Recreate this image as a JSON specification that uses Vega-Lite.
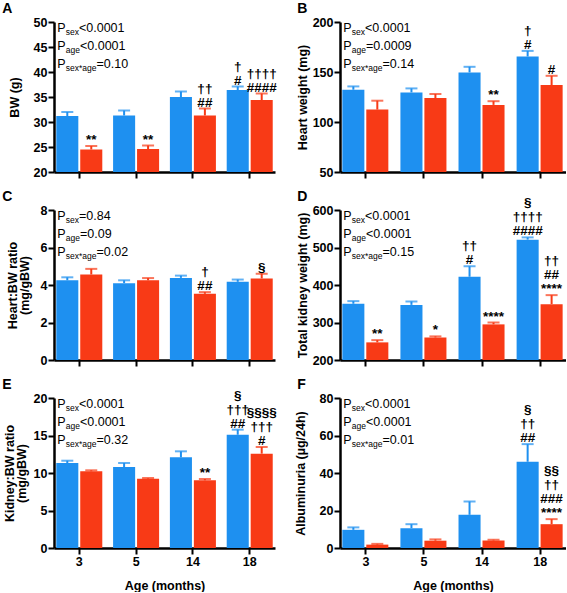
{
"$schema":"https://vega.github.io/schema/vega-lite/v6.json",
"padding":{"left":2,"top":2,"right":0,"bottom":0},
"columns":2,
"spacing":{"row":11,"column":17},
"datasets":{
"bars":[
{"panel":"A","age":"3","sex":"Male","mean":31.2,"upper":32.0},
{"panel":"A","age":"3","sex":"Female","mean":24.5,"upper":25.2,"a1":"**"},
{"panel":"A","age":"5","sex":"Male","mean":31.3,"upper":32.3},
{"panel":"A","age":"5","sex":"Female","mean":24.6,"upper":25.3,"a1":"**"},
{"panel":"A","age":"14","sex":"Male","mean":35.0,"upper":36.1},
{"panel":"A","age":"14","sex":"Female","mean":31.3,"upper":32.7,"a1":"##","a2":"††"},
{"panel":"A","age":"18","sex":"Male","mean":36.4,"upper":37.1,"a1":"#","a2":"†"},
{"panel":"A","age":"18","sex":"Female","mean":34.4,"upper":35.7,"a1":"####","a2":"††††"},
{"panel":"B","age":"3","sex":"Male","mean":132.3,"upper":135.6},
{"panel":"B","age":"3","sex":"Female","mean":112.4,"upper":121.3},
{"panel":"B","age":"5","sex":"Male","mean":129.6,"upper":133.6},
{"panel":"B","age":"5","sex":"Female","mean":124.0,"upper":128.0},
{"panel":"B","age":"14","sex":"Male","mean":149.6,"upper":155.2},
{"panel":"B","age":"14","sex":"Female","mean":117.1,"upper":120.8,"a1":"**"},
{"panel":"B","age":"18","sex":"Male","mean":165.5,"upper":171.1,"a1":"#","a2":"†"},
{"panel":"B","age":"18","sex":"Female","mean":136.9,"upper":146.2,"a1":"#"},
{"panel":"C","age":"3","sex":"Male","mean":4.25,"upper":4.41},
{"panel":"C","age":"3","sex":"Female","mean":4.56,"upper":4.86},
{"panel":"C","age":"5","sex":"Male","mean":4.10,"upper":4.25},
{"panel":"C","age":"5","sex":"Female","mean":4.25,"upper":4.37},
{"panel":"C","age":"14","sex":"Male","mean":4.38,"upper":4.50},
{"panel":"C","age":"14","sex":"Female","mean":3.53,"upper":3.62,"a1":"##","a2":"†"},
{"panel":"C","age":"18","sex":"Male","mean":4.17,"upper":4.29},
{"panel":"C","age":"18","sex":"Female","mean":4.35,"upper":4.60,"a1":"§"},
{"panel":"D","age":"3","sex":"Male","mean":350,"upper":357},
{"panel":"D","age":"3","sex":"Female","mean":247,"upper":253,"a1":"**"},
{"panel":"D","age":"5","sex":"Male","mean":347,"upper":356},
{"panel":"D","age":"5","sex":"Female","mean":260,"upper":263,"a1":"*"},
{"panel":"D","age":"14","sex":"Male","mean":422,"upper":450,"a1":"#","a2":"††"},
{"panel":"D","age":"14","sex":"Female","mean":295,"upper":300,"a1":"****"},
{"panel":"D","age":"18","sex":"Male","mean":521,"upper":527,"a1":"####","a2":"††††","a3":"§"},
{"panel":"D","age":"18","sex":"Female","mean":349,"upper":373,"a1":"****","a2":"##","a3":"††"},
{"panel":"E","age":"3","sex":"Male","mean":11.33,"upper":11.64},
{"panel":"E","age":"3","sex":"Female","mean":10.22,"upper":10.36},
{"panel":"E","age":"5","sex":"Male","mean":10.8,"upper":11.33},
{"panel":"E","age":"5","sex":"Female","mean":9.24,"upper":9.33},
{"panel":"E","age":"14","sex":"Male","mean":12.09,"upper":12.89},
{"panel":"E","age":"14","sex":"Female","mean":9.02,"upper":9.2,"a1":"**"},
{"panel":"E","age":"18","sex":"Male","mean":15.1,"upper":15.78,"a1":"##","a2":"†††","a3":"§"},
{"panel":"E","age":"18","sex":"Female","mean":12.58,"upper":13.47,"a1":"#","a2":"†††","a3":"§§§§"},
{"panel":"F","age":"3","sex":"Male","mean":9.7,"upper":11.0},
{"panel":"F","age":"3","sex":"Female","mean":1.8,"upper":2.2},
{"panel":"F","age":"5","sex":"Male","mean":10.6,"upper":12.7},
{"panel":"F","age":"5","sex":"Female","mean":3.9,"upper":4.6},
{"panel":"F","age":"14","sex":"Male","mean":17.7,"upper":24.8},
{"panel":"F","age":"14","sex":"Female","mean":4.0,"upper":4.4},
{"panel":"F","age":"18","sex":"Male","mean":46.0,"upper":55.4,"a1":"##","a2":"††","a3":"§"},
{"panel":"F","age":"18","sex":"Female","mean":12.7,"upper":15.4,"a1":"****","a2":"###","a3":"††","a4":"§§"}
],
"pv":[
{"panel":"A","s":"<0.0001","a":"<0.0001","i":"=0.10"},
{"panel":"B","s":"<0.0001","a":"=0.0009","i":"=0.14"},
{"panel":"C","s":"=0.84","a":"=0.09","i":"=0.02"},
{"panel":"D","s":"<0.0001","a":"<0.0001","i":"=0.15"},
{"panel":"E","s":"<0.0001","a":"<0.0001","i":"=0.32"},
{"panel":"F","s":"<0.0001","a":"<0.0001","i":"=0.01"}
]
},
"concat":[
{"width":221,"height":150,"data":{"name":"bars"},"transform":[{"filter":"datum.panel==='A'"}],"layer":[
{"mark":{"type":"bar"},"encoding":{
"x":{"field":"age","type":"ordinal","scale":{"domain":["3","5","14","18"],"paddingInner":0.19,"paddingOuter":0.04},"axis":{"labels":false,"title":null}},
"xOffset":{"field":"sex","type":"nominal","sort":["Male","Female"],"scale":{"paddingInner":0.08}},
"y":{"field":"mean","type":"quantitative","title":"BW (g)","scale":{"domain":[20,50],"nice":false,"zero":false},"axis":{"values":[20,25,30,35,40,45,50],"tickCount":7,"labelOverlap":false,"titlePadding":12}},
"y2":{"datum":20},
"color":{"field":"sex","type":"nominal","scale":{"domain":["Male","Female"],"range":["#1E90F0","#F83A16"]},"legend":null}}},
{"mark":{"type":"rule","strokeWidth":2},"encoding":{"x":{"field":"age","type":"ordinal"},"xOffset":{"field":"sex","type":"nominal","sort":["Male","Female"]},"y":{"field":"mean","type":"quantitative","title":"BW (g)"},"y2":{"field":"upper"},"color":{"field":"sex","type":"nominal","legend":null}}},
{"mark":{"type":"tick","size":12,"thickness":2},"encoding":{"x":{"field":"age","type":"ordinal"},"xOffset":{"field":"sex","type":"nominal","sort":["Male","Female"]},"y":{"field":"upper","type":"quantitative","title":"BW (g)"},"color":{"field":"sex","type":"nominal","legend":null}}},
{"transform":[{"filter":"datum.a1"}],"mark":{"type":"text","baseline":"alphabetic","dy":-2,"fontSize":13.5,"fontWeight":"bold","color":"#000"},"encoding":{"x":{"field":"age","type":"ordinal"},"xOffset":{"field":"sex","type":"nominal","sort":["Male","Female"]},"y":{"field":"upper","type":"quantitative","title":"BW (g)"},"text":{"field":"a1"}}},
{"transform":[{"filter":"datum.a2"}],"mark":{"type":"text","baseline":"alphabetic","dy":-16,"fontSize":13.5,"fontWeight":"bold","color":"#000"},"encoding":{"x":{"field":"age","type":"ordinal"},"xOffset":{"field":"sex","type":"nominal","sort":["Male","Female"]},"y":{"field":"upper","type":"quantitative","title":"BW (g)"},"text":{"field":"a2"}}},
{"data":{"name":"pv"},"transform":[{"filter":"datum.panel==='A'"}],"mark":{"type":"text","align":"left","baseline":"alphabetic","fontSize":14,"fontWeight":"bold","dx":-54,"dy":-9,"color":"#000"},"encoding":{"x":{"datum":"3","type":"ordinal","bandPosition":0},"y":{"datum":50,"type":"quantitative"},"text":{"field":"panel"}}},
{"data":{"name":"pv"},"transform":[{"filter":"datum.panel==='A'"}],"mark":{"type":"text","align":"left","baseline":"alphabetic","fontSize":12.5,"dx":1,"dy":10,"lineHeight":18,"color":"#000"},"encoding":{"x":{"datum":"3","type":"ordinal","bandPosition":0},"y":{"datum":50,"type":"quantitative"},"text":{"value":["P","P","P"]}}},
{"data":{"name":"pv"},"transform":[{"filter":"datum.panel==='A'"}],"mark":{"type":"text","align":"left","baseline":"alphabetic","fontSize":8.5,"dx":9.5,"dy":13,"lineHeight":18,"color":"#000"},"encoding":{"x":{"datum":"3","type":"ordinal","bandPosition":0},"y":{"datum":50,"type":"quantitative"},"text":{"value":["sex","age","sex*age"]}}},
{"data":{"name":"pv"},"transform":[{"filter":"datum.panel==='A'"}],"mark":{"type":"text","align":"left","baseline":"alphabetic","fontSize":12.5,"dx":22.7,"dy":10,"color":"#000"},"encoding":{"x":{"datum":"3","type":"ordinal","bandPosition":0},"y":{"datum":50,"type":"quantitative"},"text":{"field":"s"}}},
{"data":{"name":"pv"},"transform":[{"filter":"datum.panel==='A'"}],"mark":{"type":"text","align":"left","baseline":"alphabetic","fontSize":12.5,"dx":23.7,"dy":28,"color":"#000"},"encoding":{"x":{"datum":"3","type":"ordinal","bandPosition":0},"y":{"datum":50,"type":"quantitative"},"text":{"field":"a"}}},
{"data":{"name":"pv"},"transform":[{"filter":"datum.panel==='A'"}],"mark":{"type":"text","align":"left","baseline":"alphabetic","fontSize":12.5,"dx":40.2,"dy":46,"color":"#000"},"encoding":{"x":{"datum":"3","type":"ordinal","bandPosition":0},"y":{"datum":50,"type":"quantitative"},"text":{"field":"i"}}}
]},
{"width":226,"height":150,"data":{"name":"bars"},"transform":[{"filter":"datum.panel==='B'"}],"layer":[
{"mark":{"type":"bar"},"encoding":{
"x":{"field":"age","type":"ordinal","scale":{"domain":["3","5","14","18"],"paddingInner":0.19,"paddingOuter":0.04},"axis":{"labels":false,"title":null}},
"xOffset":{"field":"sex","type":"nominal","sort":["Male","Female"],"scale":{"paddingInner":0.08}},
"y":{"field":"mean","type":"quantitative","title":"Heart weight (mg)","scale":{"domain":[50,200],"nice":false,"zero":false},"axis":{"values":[50,100,150,200],"tickCount":4,"labelOverlap":false,"titlePadding":3}},
"y2":{"datum":50},
"color":{"field":"sex","type":"nominal","scale":{"domain":["Male","Female"],"range":["#1E90F0","#F83A16"]},"legend":null}}},
{"mark":{"type":"rule","strokeWidth":2},"encoding":{"x":{"field":"age","type":"ordinal"},"xOffset":{"field":"sex","type":"nominal","sort":["Male","Female"]},"y":{"field":"mean","type":"quantitative","title":"Heart weight (mg)"},"y2":{"field":"upper"},"color":{"field":"sex","type":"nominal","legend":null}}},
{"mark":{"type":"tick","size":12,"thickness":2},"encoding":{"x":{"field":"age","type":"ordinal"},"xOffset":{"field":"sex","type":"nominal","sort":["Male","Female"]},"y":{"field":"upper","type":"quantitative","title":"Heart weight (mg)"},"color":{"field":"sex","type":"nominal","legend":null}}},
{"transform":[{"filter":"datum.a1"}],"mark":{"type":"text","baseline":"alphabetic","dy":-2,"fontSize":13.5,"fontWeight":"bold","color":"#000"},"encoding":{"x":{"field":"age","type":"ordinal"},"xOffset":{"field":"sex","type":"nominal","sort":["Male","Female"]},"y":{"field":"upper","type":"quantitative","title":"Heart weight (mg)"},"text":{"field":"a1"}}},
{"transform":[{"filter":"datum.a2"}],"mark":{"type":"text","baseline":"alphabetic","dy":-16,"fontSize":13.5,"fontWeight":"bold","color":"#000"},"encoding":{"x":{"field":"age","type":"ordinal"},"xOffset":{"field":"sex","type":"nominal","sort":["Male","Female"]},"y":{"field":"upper","type":"quantitative","title":"Heart weight (mg)"},"text":{"field":"a2"}}},
{"data":{"name":"pv"},"transform":[{"filter":"datum.panel==='B'"}],"mark":{"type":"text","align":"left","baseline":"alphabetic","fontSize":14,"fontWeight":"bold","dx":-45,"dy":-9,"color":"#000"},"encoding":{"x":{"datum":"3","type":"ordinal","bandPosition":0},"y":{"datum":200,"type":"quantitative"},"text":{"field":"panel"}}},
{"data":{"name":"pv"},"transform":[{"filter":"datum.panel==='B'"}],"mark":{"type":"text","align":"left","baseline":"alphabetic","fontSize":12.5,"dx":1,"dy":10,"lineHeight":18,"color":"#000"},"encoding":{"x":{"datum":"3","type":"ordinal","bandPosition":0},"y":{"datum":200,"type":"quantitative"},"text":{"value":["P","P","P"]}}},
{"data":{"name":"pv"},"transform":[{"filter":"datum.panel==='B'"}],"mark":{"type":"text","align":"left","baseline":"alphabetic","fontSize":8.5,"dx":9.5,"dy":13,"lineHeight":18,"color":"#000"},"encoding":{"x":{"datum":"3","type":"ordinal","bandPosition":0},"y":{"datum":200,"type":"quantitative"},"text":{"value":["sex","age","sex*age"]}}},
{"data":{"name":"pv"},"transform":[{"filter":"datum.panel==='B'"}],"mark":{"type":"text","align":"left","baseline":"alphabetic","fontSize":12.5,"dx":22.7,"dy":10,"color":"#000"},"encoding":{"x":{"datum":"3","type":"ordinal","bandPosition":0},"y":{"datum":200,"type":"quantitative"},"text":{"field":"s"}}},
{"data":{"name":"pv"},"transform":[{"filter":"datum.panel==='B'"}],"mark":{"type":"text","align":"left","baseline":"alphabetic","fontSize":12.5,"dx":23.7,"dy":28,"color":"#000"},"encoding":{"x":{"datum":"3","type":"ordinal","bandPosition":0},"y":{"datum":200,"type":"quantitative"},"text":{"field":"a"}}},
{"data":{"name":"pv"},"transform":[{"filter":"datum.panel==='B'"}],"mark":{"type":"text","align":"left","baseline":"alphabetic","fontSize":12.5,"dx":40.2,"dy":46,"color":"#000"},"encoding":{"x":{"datum":"3","type":"ordinal","bandPosition":0},"y":{"datum":200,"type":"quantitative"},"text":{"field":"i"}}}
]},
{"width":221,"height":150,"data":{"name":"bars"},"transform":[{"filter":"datum.panel==='C'"}],"layer":[
{"mark":{"type":"bar"},"encoding":{
"x":{"field":"age","type":"ordinal","scale":{"domain":["3","5","14","18"],"paddingInner":0.19,"paddingOuter":0.04},"axis":{"labels":false,"title":null}},
"xOffset":{"field":"sex","type":"nominal","sort":["Male","Female"],"scale":{"paddingInner":0.08}},
"y":{"field":"mean","type":"quantitative","title":["Heart:BW ratio","(mg/gBW)"],"scale":{"domain":[0,8],"nice":false,"zero":false},"axis":{"values":[0,2,4,6,8],"tickCount":5,"labelOverlap":false,"titlePadding":9}},
"y2":{"datum":0},
"color":{"field":"sex","type":"nominal","scale":{"domain":["Male","Female"],"range":["#1E90F0","#F83A16"]},"legend":null}}},
{"mark":{"type":"rule","strokeWidth":2},"encoding":{"x":{"field":"age","type":"ordinal"},"xOffset":{"field":"sex","type":"nominal","sort":["Male","Female"]},"y":{"field":"mean","type":"quantitative","title":["Heart:BW ratio","(mg/gBW)"]},"y2":{"field":"upper"},"color":{"field":"sex","type":"nominal","legend":null}}},
{"mark":{"type":"tick","size":12,"thickness":2},"encoding":{"x":{"field":"age","type":"ordinal"},"xOffset":{"field":"sex","type":"nominal","sort":["Male","Female"]},"y":{"field":"upper","type":"quantitative","title":["Heart:BW ratio","(mg/gBW)"]},"color":{"field":"sex","type":"nominal","legend":null}}},
{"transform":[{"filter":"datum.a1"}],"mark":{"type":"text","baseline":"alphabetic","dy":-2,"fontSize":13.5,"fontWeight":"bold","color":"#000"},"encoding":{"x":{"field":"age","type":"ordinal"},"xOffset":{"field":"sex","type":"nominal","sort":["Male","Female"]},"y":{"field":"upper","type":"quantitative","title":["Heart:BW ratio","(mg/gBW)"]},"text":{"field":"a1"}}},
{"transform":[{"filter":"datum.a2"}],"mark":{"type":"text","baseline":"alphabetic","dy":-16,"fontSize":13.5,"fontWeight":"bold","color":"#000"},"encoding":{"x":{"field":"age","type":"ordinal"},"xOffset":{"field":"sex","type":"nominal","sort":["Male","Female"]},"y":{"field":"upper","type":"quantitative","title":["Heart:BW ratio","(mg/gBW)"]},"text":{"field":"a2"}}},
{"data":{"name":"pv"},"transform":[{"filter":"datum.panel==='C'"}],"mark":{"type":"text","align":"left","baseline":"alphabetic","fontSize":14,"fontWeight":"bold","dx":-54,"dy":-9,"color":"#000"},"encoding":{"x":{"datum":"3","type":"ordinal","bandPosition":0},"y":{"datum":8,"type":"quantitative"},"text":{"field":"panel"}}},
{"data":{"name":"pv"},"transform":[{"filter":"datum.panel==='C'"}],"mark":{"type":"text","align":"left","baseline":"alphabetic","fontSize":12.5,"dx":1,"dy":10,"lineHeight":18,"color":"#000"},"encoding":{"x":{"datum":"3","type":"ordinal","bandPosition":0},"y":{"datum":8,"type":"quantitative"},"text":{"value":["P","P","P"]}}},
{"data":{"name":"pv"},"transform":[{"filter":"datum.panel==='C'"}],"mark":{"type":"text","align":"left","baseline":"alphabetic","fontSize":8.5,"dx":9.5,"dy":13,"lineHeight":18,"color":"#000"},"encoding":{"x":{"datum":"3","type":"ordinal","bandPosition":0},"y":{"datum":8,"type":"quantitative"},"text":{"value":["sex","age","sex*age"]}}},
{"data":{"name":"pv"},"transform":[{"filter":"datum.panel==='C'"}],"mark":{"type":"text","align":"left","baseline":"alphabetic","fontSize":12.5,"dx":22.7,"dy":10,"color":"#000"},"encoding":{"x":{"datum":"3","type":"ordinal","bandPosition":0},"y":{"datum":8,"type":"quantitative"},"text":{"field":"s"}}},
{"data":{"name":"pv"},"transform":[{"filter":"datum.panel==='C'"}],"mark":{"type":"text","align":"left","baseline":"alphabetic","fontSize":12.5,"dx":23.7,"dy":28,"color":"#000"},"encoding":{"x":{"datum":"3","type":"ordinal","bandPosition":0},"y":{"datum":8,"type":"quantitative"},"text":{"field":"a"}}},
{"data":{"name":"pv"},"transform":[{"filter":"datum.panel==='C'"}],"mark":{"type":"text","align":"left","baseline":"alphabetic","fontSize":12.5,"dx":40.2,"dy":46,"color":"#000"},"encoding":{"x":{"datum":"3","type":"ordinal","bandPosition":0},"y":{"datum":8,"type":"quantitative"},"text":{"field":"i"}}}
]},
{"width":226,"height":150,"data":{"name":"bars"},"transform":[{"filter":"datum.panel==='D'"}],"layer":[
{"mark":{"type":"bar"},"encoding":{
"x":{"field":"age","type":"ordinal","scale":{"domain":["3","5","14","18"],"paddingInner":0.19,"paddingOuter":0.04},"axis":{"labels":false,"title":null}},
"xOffset":{"field":"sex","type":"nominal","sort":["Male","Female"],"scale":{"paddingInner":0.08}},
"y":{"field":"mean","type":"quantitative","title":"Total kidney weight (mg)","scale":{"domain":[200,600],"nice":false,"zero":false},"axis":{"values":[200,300,400,500,600],"tickCount":5,"labelOverlap":false,"titlePadding":3}},
"y2":{"datum":200},
"color":{"field":"sex","type":"nominal","scale":{"domain":["Male","Female"],"range":["#1E90F0","#F83A16"]},"legend":null}}},
{"mark":{"type":"rule","strokeWidth":2},"encoding":{"x":{"field":"age","type":"ordinal"},"xOffset":{"field":"sex","type":"nominal","sort":["Male","Female"]},"y":{"field":"mean","type":"quantitative","title":"Total kidney weight (mg)"},"y2":{"field":"upper"},"color":{"field":"sex","type":"nominal","legend":null}}},
{"mark":{"type":"tick","size":12,"thickness":2},"encoding":{"x":{"field":"age","type":"ordinal"},"xOffset":{"field":"sex","type":"nominal","sort":["Male","Female"]},"y":{"field":"upper","type":"quantitative","title":"Total kidney weight (mg)"},"color":{"field":"sex","type":"nominal","legend":null}}},
{"transform":[{"filter":"datum.a1"}],"mark":{"type":"text","baseline":"alphabetic","dy":-2,"fontSize":13.5,"fontWeight":"bold","color":"#000"},"encoding":{"x":{"field":"age","type":"ordinal"},"xOffset":{"field":"sex","type":"nominal","sort":["Male","Female"]},"y":{"field":"upper","type":"quantitative","title":"Total kidney weight (mg)"},"text":{"field":"a1"}}},
{"transform":[{"filter":"datum.a2"}],"mark":{"type":"text","baseline":"alphabetic","dy":-16,"fontSize":13.5,"fontWeight":"bold","color":"#000"},"encoding":{"x":{"field":"age","type":"ordinal"},"xOffset":{"field":"sex","type":"nominal","sort":["Male","Female"]},"y":{"field":"upper","type":"quantitative","title":"Total kidney weight (mg)"},"text":{"field":"a2"}}},
{"transform":[{"filter":"datum.a3"}],"mark":{"type":"text","baseline":"alphabetic","dy":-30,"fontSize":13.5,"fontWeight":"bold","color":"#000"},"encoding":{"x":{"field":"age","type":"ordinal"},"xOffset":{"field":"sex","type":"nominal","sort":["Male","Female"]},"y":{"field":"upper","type":"quantitative","title":"Total kidney weight (mg)"},"text":{"field":"a3"}}},
{"data":{"name":"pv"},"transform":[{"filter":"datum.panel==='D'"}],"mark":{"type":"text","align":"left","baseline":"alphabetic","fontSize":14,"fontWeight":"bold","dx":-45,"dy":-9,"color":"#000"},"encoding":{"x":{"datum":"3","type":"ordinal","bandPosition":0},"y":{"datum":600,"type":"quantitative"},"text":{"field":"panel"}}},
{"data":{"name":"pv"},"transform":[{"filter":"datum.panel==='D'"}],"mark":{"type":"text","align":"left","baseline":"alphabetic","fontSize":12.5,"dx":1,"dy":10,"lineHeight":18,"color":"#000"},"encoding":{"x":{"datum":"3","type":"ordinal","bandPosition":0},"y":{"datum":600,"type":"quantitative"},"text":{"value":["P","P","P"]}}},
{"data":{"name":"pv"},"transform":[{"filter":"datum.panel==='D'"}],"mark":{"type":"text","align":"left","baseline":"alphabetic","fontSize":8.5,"dx":9.5,"dy":13,"lineHeight":18,"color":"#000"},"encoding":{"x":{"datum":"3","type":"ordinal","bandPosition":0},"y":{"datum":600,"type":"quantitative"},"text":{"value":["sex","age","sex*age"]}}},
{"data":{"name":"pv"},"transform":[{"filter":"datum.panel==='D'"}],"mark":{"type":"text","align":"left","baseline":"alphabetic","fontSize":12.5,"dx":22.7,"dy":10,"color":"#000"},"encoding":{"x":{"datum":"3","type":"ordinal","bandPosition":0},"y":{"datum":600,"type":"quantitative"},"text":{"field":"s"}}},
{"data":{"name":"pv"},"transform":[{"filter":"datum.panel==='D'"}],"mark":{"type":"text","align":"left","baseline":"alphabetic","fontSize":12.5,"dx":23.7,"dy":28,"color":"#000"},"encoding":{"x":{"datum":"3","type":"ordinal","bandPosition":0},"y":{"datum":600,"type":"quantitative"},"text":{"field":"a"}}},
{"data":{"name":"pv"},"transform":[{"filter":"datum.panel==='D'"}],"mark":{"type":"text","align":"left","baseline":"alphabetic","fontSize":12.5,"dx":40.2,"dy":46,"color":"#000"},"encoding":{"x":{"datum":"3","type":"ordinal","bandPosition":0},"y":{"datum":600,"type":"quantitative"},"text":{"field":"i"}}}
]},
{"width":221,"height":150,"data":{"name":"bars"},"transform":[{"filter":"datum.panel==='E'"}],"layer":[
{"mark":{"type":"bar"},"encoding":{
"x":{"field":"age","type":"ordinal","scale":{"domain":["3","5","14","18"],"paddingInner":0.19,"paddingOuter":0.04},"axis":{"title":"Age (months)","labelPadding":1,"titlePadding":12}},
"xOffset":{"field":"sex","type":"nominal","sort":["Male","Female"],"scale":{"paddingInner":0.08}},
"y":{"field":"mean","type":"quantitative","title":["Kidney:BW ratio","(mg/gBW)"],"scale":{"domain":[0,20],"nice":false,"zero":false},"axis":{"values":[0,5,10,15,20],"tickCount":5,"labelOverlap":false,"titlePadding":5}},
"y2":{"datum":0},
"color":{"field":"sex","type":"nominal","scale":{"domain":["Male","Female"],"range":["#1E90F0","#F83A16"]},"legend":null}}},
{"mark":{"type":"rule","strokeWidth":2},"encoding":{"x":{"field":"age","type":"ordinal"},"xOffset":{"field":"sex","type":"nominal","sort":["Male","Female"]},"y":{"field":"mean","type":"quantitative","title":["Kidney:BW ratio","(mg/gBW)"]},"y2":{"field":"upper"},"color":{"field":"sex","type":"nominal","legend":null}}},
{"mark":{"type":"tick","size":12,"thickness":2},"encoding":{"x":{"field":"age","type":"ordinal"},"xOffset":{"field":"sex","type":"nominal","sort":["Male","Female"]},"y":{"field":"upper","type":"quantitative","title":["Kidney:BW ratio","(mg/gBW)"]},"color":{"field":"sex","type":"nominal","legend":null}}},
{"transform":[{"filter":"datum.a1"}],"mark":{"type":"text","baseline":"alphabetic","dy":-2,"fontSize":13.5,"fontWeight":"bold","color":"#000"},"encoding":{"x":{"field":"age","type":"ordinal"},"xOffset":{"field":"sex","type":"nominal","sort":["Male","Female"]},"y":{"field":"upper","type":"quantitative","title":["Kidney:BW ratio","(mg/gBW)"]},"text":{"field":"a1"}}},
{"transform":[{"filter":"datum.a2"}],"mark":{"type":"text","baseline":"alphabetic","dy":-16,"fontSize":13.5,"fontWeight":"bold","color":"#000"},"encoding":{"x":{"field":"age","type":"ordinal"},"xOffset":{"field":"sex","type":"nominal","sort":["Male","Female"]},"y":{"field":"upper","type":"quantitative","title":["Kidney:BW ratio","(mg/gBW)"]},"text":{"field":"a2"}}},
{"transform":[{"filter":"datum.a3"}],"mark":{"type":"text","baseline":"alphabetic","dy":-30,"fontSize":13.5,"fontWeight":"bold","color":"#000"},"encoding":{"x":{"field":"age","type":"ordinal"},"xOffset":{"field":"sex","type":"nominal","sort":["Male","Female"]},"y":{"field":"upper","type":"quantitative","title":["Kidney:BW ratio","(mg/gBW)"]},"text":{"field":"a3"}}},
{"data":{"name":"pv"},"transform":[{"filter":"datum.panel==='E'"}],"mark":{"type":"text","align":"left","baseline":"alphabetic","fontSize":14,"fontWeight":"bold","dx":-54,"dy":-9,"color":"#000"},"encoding":{"x":{"datum":"3","type":"ordinal","bandPosition":0},"y":{"datum":20,"type":"quantitative"},"text":{"field":"panel"}}},
{"data":{"name":"pv"},"transform":[{"filter":"datum.panel==='E'"}],"mark":{"type":"text","align":"left","baseline":"alphabetic","fontSize":12.5,"dx":1,"dy":10,"lineHeight":18,"color":"#000"},"encoding":{"x":{"datum":"3","type":"ordinal","bandPosition":0},"y":{"datum":20,"type":"quantitative"},"text":{"value":["P","P","P"]}}},
{"data":{"name":"pv"},"transform":[{"filter":"datum.panel==='E'"}],"mark":{"type":"text","align":"left","baseline":"alphabetic","fontSize":8.5,"dx":9.5,"dy":13,"lineHeight":18,"color":"#000"},"encoding":{"x":{"datum":"3","type":"ordinal","bandPosition":0},"y":{"datum":20,"type":"quantitative"},"text":{"value":["sex","age","sex*age"]}}},
{"data":{"name":"pv"},"transform":[{"filter":"datum.panel==='E'"}],"mark":{"type":"text","align":"left","baseline":"alphabetic","fontSize":12.5,"dx":22.7,"dy":10,"color":"#000"},"encoding":{"x":{"datum":"3","type":"ordinal","bandPosition":0},"y":{"datum":20,"type":"quantitative"},"text":{"field":"s"}}},
{"data":{"name":"pv"},"transform":[{"filter":"datum.panel==='E'"}],"mark":{"type":"text","align":"left","baseline":"alphabetic","fontSize":12.5,"dx":23.7,"dy":28,"color":"#000"},"encoding":{"x":{"datum":"3","type":"ordinal","bandPosition":0},"y":{"datum":20,"type":"quantitative"},"text":{"field":"a"}}},
{"data":{"name":"pv"},"transform":[{"filter":"datum.panel==='E'"}],"mark":{"type":"text","align":"left","baseline":"alphabetic","fontSize":12.5,"dx":40.2,"dy":46,"color":"#000"},"encoding":{"x":{"datum":"3","type":"ordinal","bandPosition":0},"y":{"datum":20,"type":"quantitative"},"text":{"field":"i"}}}
]},
{"width":226,"height":150,"data":{"name":"bars"},"transform":[{"filter":"datum.panel==='F'"}],"layer":[
{"mark":{"type":"bar"},"encoding":{
"x":{"field":"age","type":"ordinal","scale":{"domain":["3","5","14","18"],"paddingInner":0.19,"paddingOuter":0.04},"axis":{"title":"Age (months)","labelPadding":1,"titlePadding":12}},
"xOffset":{"field":"sex","type":"nominal","sort":["Male","Female"],"scale":{"paddingInner":0.08}},
"y":{"field":"mean","type":"quantitative","title":"Albuminuria (µg/24h)","scale":{"domain":[0,80],"nice":false,"zero":false},"axis":{"values":[0,20,40,60,80],"tickCount":5,"labelOverlap":false,"titlePadding":12}},
"y2":{"datum":0},
"color":{"field":"sex","type":"nominal","scale":{"domain":["Male","Female"],"range":["#1E90F0","#F83A16"]},"legend":null}}},
{"mark":{"type":"rule","strokeWidth":2},"encoding":{"x":{"field":"age","type":"ordinal"},"xOffset":{"field":"sex","type":"nominal","sort":["Male","Female"]},"y":{"field":"mean","type":"quantitative","title":"Albuminuria (µg/24h)"},"y2":{"field":"upper"},"color":{"field":"sex","type":"nominal","legend":null}}},
{"mark":{"type":"tick","size":12,"thickness":2},"encoding":{"x":{"field":"age","type":"ordinal"},"xOffset":{"field":"sex","type":"nominal","sort":["Male","Female"]},"y":{"field":"upper","type":"quantitative","title":"Albuminuria (µg/24h)"},"color":{"field":"sex","type":"nominal","legend":null}}},
{"transform":[{"filter":"datum.a1"}],"mark":{"type":"text","baseline":"alphabetic","dy":-2,"fontSize":13.5,"fontWeight":"bold","color":"#000"},"encoding":{"x":{"field":"age","type":"ordinal"},"xOffset":{"field":"sex","type":"nominal","sort":["Male","Female"]},"y":{"field":"upper","type":"quantitative","title":"Albuminuria (µg/24h)"},"text":{"field":"a1"}}},
{"transform":[{"filter":"datum.a2"}],"mark":{"type":"text","baseline":"alphabetic","dy":-16,"fontSize":13.5,"fontWeight":"bold","color":"#000"},"encoding":{"x":{"field":"age","type":"ordinal"},"xOffset":{"field":"sex","type":"nominal","sort":["Male","Female"]},"y":{"field":"upper","type":"quantitative","title":"Albuminuria (µg/24h)"},"text":{"field":"a2"}}},
{"transform":[{"filter":"datum.a3"}],"mark":{"type":"text","baseline":"alphabetic","dy":-30,"fontSize":13.5,"fontWeight":"bold","color":"#000"},"encoding":{"x":{"field":"age","type":"ordinal"},"xOffset":{"field":"sex","type":"nominal","sort":["Male","Female"]},"y":{"field":"upper","type":"quantitative","title":"Albuminuria (µg/24h)"},"text":{"field":"a3"}}},
{"transform":[{"filter":"datum.a4"}],"mark":{"type":"text","baseline":"alphabetic","dy":-44,"fontSize":13.5,"fontWeight":"bold","color":"#000"},"encoding":{"x":{"field":"age","type":"ordinal"},"xOffset":{"field":"sex","type":"nominal","sort":["Male","Female"]},"y":{"field":"upper","type":"quantitative","title":"Albuminuria (µg/24h)"},"text":{"field":"a4"}}},
{"data":{"name":"pv"},"transform":[{"filter":"datum.panel==='F'"}],"mark":{"type":"text","align":"left","baseline":"alphabetic","fontSize":14,"fontWeight":"bold","dx":-45,"dy":-9,"color":"#000"},"encoding":{"x":{"datum":"3","type":"ordinal","bandPosition":0},"y":{"datum":80,"type":"quantitative"},"text":{"field":"panel"}}},
{"data":{"name":"pv"},"transform":[{"filter":"datum.panel==='F'"}],"mark":{"type":"text","align":"left","baseline":"alphabetic","fontSize":12.5,"dx":1,"dy":10,"lineHeight":18,"color":"#000"},"encoding":{"x":{"datum":"3","type":"ordinal","bandPosition":0},"y":{"datum":80,"type":"quantitative"},"text":{"value":["P","P","P"]}}},
{"data":{"name":"pv"},"transform":[{"filter":"datum.panel==='F'"}],"mark":{"type":"text","align":"left","baseline":"alphabetic","fontSize":8.5,"dx":9.5,"dy":13,"lineHeight":18,"color":"#000"},"encoding":{"x":{"datum":"3","type":"ordinal","bandPosition":0},"y":{"datum":80,"type":"quantitative"},"text":{"value":["sex","age","sex*age"]}}},
{"data":{"name":"pv"},"transform":[{"filter":"datum.panel==='F'"}],"mark":{"type":"text","align":"left","baseline":"alphabetic","fontSize":12.5,"dx":22.7,"dy":10,"color":"#000"},"encoding":{"x":{"datum":"3","type":"ordinal","bandPosition":0},"y":{"datum":80,"type":"quantitative"},"text":{"field":"s"}}},
{"data":{"name":"pv"},"transform":[{"filter":"datum.panel==='F'"}],"mark":{"type":"text","align":"left","baseline":"alphabetic","fontSize":12.5,"dx":23.7,"dy":28,"color":"#000"},"encoding":{"x":{"datum":"3","type":"ordinal","bandPosition":0},"y":{"datum":80,"type":"quantitative"},"text":{"field":"a"}}},
{"data":{"name":"pv"},"transform":[{"filter":"datum.panel==='F'"}],"mark":{"type":"text","align":"left","baseline":"alphabetic","fontSize":12.5,"dx":40.2,"dy":46,"color":"#000"},"encoding":{"x":{"datum":"3","type":"ordinal","bandPosition":0},"y":{"datum":80,"type":"quantitative"},"text":{"field":"i"}}}
]}
],
"config":{
"view":{"stroke":null},
"font":"Liberation Sans",
"axis":{"domainColor":"#000","domainWidth":2.5,"tickColor":"#000","tickWidth":2,"tickSize":6,"labelColor":"#000","labelFontSize":12.5,"labelFont":"Liberation Sans","labelFontWeight":"bold","labelOverlap":false,"labelBound":false,"titleColor":"#000","titleFont":"Liberation Sans","titleFontSize":12.5,"titleFontWeight":"bold","titleLineHeight":12,"grid":false,"labelPadding":1},
"axisX":{"labelAngle":0},
"text":{"font":"Liberation Sans"}
}
}
